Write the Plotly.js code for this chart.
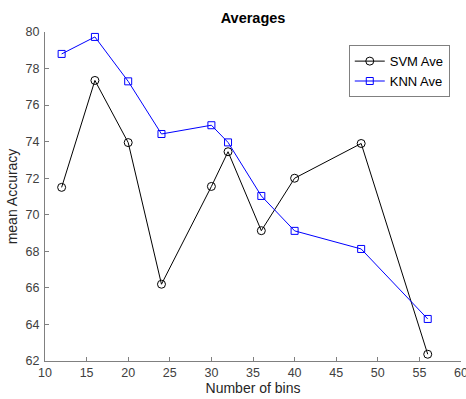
<!DOCTYPE html>
<html><head><meta charset="utf-8">
<script src="https://cdn.plot.ly/plotly-3.0.1.min.js"></script>
<style>html,body{margin:0;padding:0;background:#fff}#c{width:466px;height:399px}</style>
</head><body><div id="c"></div>
<script>
const bins = [12, 16, 20, 24, 30, 32, 36, 40, 48, 56];
const svmAve = [71.5, 77.35, 73.95, 66.2, 71.55, 73.45, 69.13, 72.0, 73.9, 62.37];
const knnAve = [78.8, 79.73, 77.3, 74.42, 74.9, 73.96, 71.03, 69.12, 68.13, 64.3];
const xTicks = [10, 15, 20, 25, 30, 35, 40, 45, 50, 55, 60];
const yTicks = [62, 64, 66, 68, 70, 72, 74, 76, 78, 80];
const font = 'Liberation Sans, Arial, Helvetica, sans-serif';
const traces = [
  {x: bins, y: svmAve, name: 'SVM Ave', mode: 'lines+markers', type: 'scatter',
   line: {color: '#000000', width: 1},
   marker: {symbol: 'circle-open', size: 8, color: '#000000', line: {width: 1}}},
  {x: bins, y: knnAve, name: 'KNN Ave', mode: 'lines+markers', type: 'scatter',
   line: {color: '#0000ff', width: 1},
   marker: {symbol: 'square-open', size: 7, color: '#0000ff', line: {width: 1}}}
];
const axisCommon = {
  showgrid: false, zeroline: false, showline: true, linecolor: '#808080', linewidth: 1,
  ticks: 'inside', ticklen: 4, tickcolor: '#808080', tickwidth: 1,
  tickfont: {family: font, size: 12.5, color: '#404040'}, mirror: false,
  ticklabeloverflow: 'allow'
};
const layout = {
  width: 466, height: 399,
  margin: {l: 45, r: 5, t: 32, b: 38},
  paper_bgcolor: '#ffffff', plot_bgcolor: '#ffffff',
  showlegend: true,
  title: {text: '<b>Averages</b>', font: {family: font, size: 14.5, color: '#000'}, x: 0.543, xanchor: 'center', y: 0.955, yanchor: 'middle'},
  xaxis: Object.assign({}, axisCommon, {range: [10, 60], tickvals: xTicks, ticktext: xTicks.map(String),
    title: {text: 'Number of bins', font: {family: font, size: 14, color: '#262626'}, standoff: 2}}),
  yaxis: Object.assign({}, axisCommon, {range: [62, 80], tickvals: yTicks, ticktext: yTicks.map(String), ticklabelstandoff: 2,
    title: {text: 'mean Accuracy', font: {family: font, size: 14, color: '#262626'}, standoff: 4}}),
  legend: {x: 0.973, y: 0.96, xanchor: 'right', yanchor: 'top', bordercolor: '#808080', borderwidth: 1,
    bgcolor: '#ffffff', font: {family: font, size: 13, color: '#000'}, tracegroupgap: 0, itemwidth: 30}
};
Plotly.newPlot('c', traces, layout, {displayModeBar: false, staticPlot: true});
</script></body></html>
